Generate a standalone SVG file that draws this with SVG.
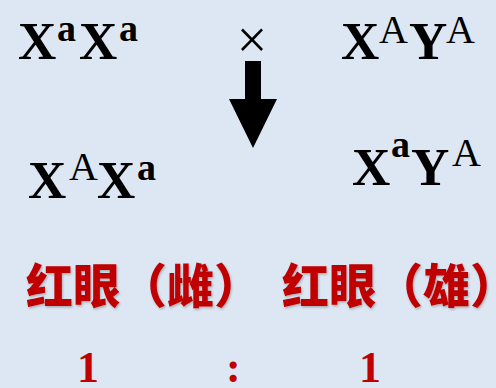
<svg xmlns="http://www.w3.org/2000/svg" width="496" height="388" viewBox="0 0 496 388">
<defs>
<style>
.g{font-family:"Liberation Serif","Times New Roman",serif;fill:#000}
.M{font-size:53px;font-weight:bold}
.sa{font-size:38px;font-weight:bold}
.sA{font-size:40px;font-weight:normal}
.cn{font-family:"Noto Sans CJK SC","Noto Sans",sans-serif;font-size:47px;font-weight:900;fill:#c00000}
.num{font-family:"Liberation Serif","Times New Roman",serif;font-size:44px;font-weight:bold;fill:#c00000}
</style>
<filter id="sh" x="-5%" y="-10%" width="110%" height="130%">
<feDropShadow dx="1" dy="1.5" stdDeviation="1" flood-color="#000" flood-opacity="0.25"/>
</filter>
</defs>
<rect width="496" height="388" fill="#dce7f3"/>
<g id="p1"><text class="g"><tspan class="M" x="18" y="59">X</tspan><tspan class="sa" x="57" y="41">a</tspan><tspan class="M" x="79" y="59">X</tspan><tspan class="sa" x="119" y="41">a</tspan></text></g>
<g id="p2"><text class="g"><tspan class="M" x="341" y="59">X</tspan><tspan class="sA" x="379" y="43">A</tspan><tspan class="M" x="409" y="59">Y</tspan><tspan class="sA" x="446" y="43">A</tspan></text></g>
<g id="cross"><text x="252" y="58" text-anchor="middle" font-family="Liberation Serif, serif" font-size="54">×</text></g>
<g id="connectors"><polygon points="245,61 261,61 261,99 277,99 253,148 229,99 245,99" fill="#000"/></g>
<g id="f1"><text class="g"><tspan class="M" x="28" y="198">X</tspan><tspan class="sA" x="69" y="180">A</tspan><tspan class="M" x="97" y="198">X</tspan><tspan class="sa" x="137" y="180">a</tspan></text></g>
<g id="f2"><text class="g"><tspan class="M" x="352" y="185">X</tspan><tspan class="sa" x="391" y="157">a</tspan><tspan class="M" x="411" y="185">Y</tspan><tspan class="sA" x="452" y="166">A</tspan></text></g>
<g id="l1"><text class="cn" x="26" y="303" filter="url(#sh)">红眼（雌）</text></g>
<g id="l2"><text class="cn" x="282" y="303" filter="url(#sh)">红眼（雄）</text></g>
<g id="ratio"><text class="num" x="77" y="382">1</text><text class="num" x="226" y="382">:</text><text class="num" x="359" y="382">1</text></g>
</svg>
